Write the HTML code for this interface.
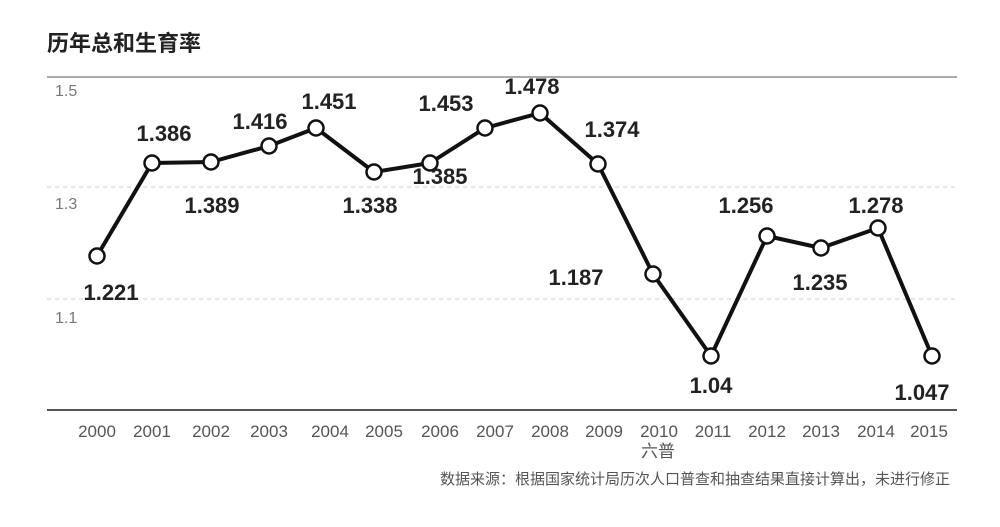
<!DOCTYPE html>
<html><head><meta charset="utf-8"><style>
body{margin:0;background:#fff;}
svg text{font-family:"Liberation Sans","Noto Sans CJK SC",sans-serif;}
</style></head><body>
<svg width="1000" height="522" viewBox="0 0 1000 522" xmlns="http://www.w3.org/2000/svg">
<rect width="1000" height="522" fill="#fff"/>
<text x="47" y="51" font-size="22" font-weight="bold" fill="#222">历年总和生育率</text>
<line x1="47" y1="77" x2="957" y2="77" stroke="#aaa" stroke-width="2"/>
<line x1="47" y1="187" x2="957" y2="187" stroke="#ddd" stroke-width="1.5" stroke-dasharray="4,4"/>
<line x1="47" y1="299" x2="957" y2="299" stroke="#ddd" stroke-width="1.5" stroke-dasharray="4,4"/>
<line x1="47" y1="410" x2="957" y2="410" stroke="#555" stroke-width="2"/>
<g font-size="16" fill="#777">
<text x="55" y="96">1.5</text><text x="55" y="209">1.3</text><text x="55" y="323">1.1</text>
</g>
<polyline fill="none" stroke="#111" stroke-width="4" stroke-linejoin="round" points="97,256 152,163 211,162 269,146 316,128 374,172 430,163 485,128 540,113 598,164 653,274 711,356 767,236 821,248 878,228 932,356"/>
<g fill="#fff" stroke="#111" stroke-width="2.5">
<circle cx="97" cy="256" r="7.5"/><circle cx="152" cy="163" r="7.5"/><circle cx="211" cy="162" r="7.5"/><circle cx="269" cy="146" r="7.5"/><circle cx="316" cy="128" r="7.5"/><circle cx="374" cy="172" r="7.5"/><circle cx="430" cy="163" r="7.5"/><circle cx="485" cy="128" r="7.5"/><circle cx="540" cy="113" r="7.5"/><circle cx="598" cy="164" r="7.5"/><circle cx="653" cy="274" r="7.5"/><circle cx="711" cy="356" r="7.5"/><circle cx="767" cy="236" r="7.5"/><circle cx="821" cy="248" r="7.5"/><circle cx="878" cy="228" r="7.5"/><circle cx="932" cy="356" r="7.5"/>
</g>
<g font-size="22" font-weight="bold" fill="#222" text-anchor="middle">
<text x="111" y="300">1.221</text><text x="164" y="141">1.386</text><text x="212" y="213">1.389</text><text x="260" y="129">1.416</text><text x="329" y="109">1.451</text><text x="370" y="213">1.338</text><text x="446" y="111">1.453</text><text x="440" y="184">1.385</text><text x="532" y="94">1.478</text><text x="612" y="137">1.374</text><text x="576" y="285">1.187</text><text x="711" y="393">1.04</text><text x="746" y="213">1.256</text><text x="820" y="290">1.235</text><text x="876" y="213">1.278</text><text x="922" y="400">1.047</text>
</g>
<g font-size="17" fill="#555" text-anchor="middle">
<text x="97" y="437">2000</text><text x="152" y="437">2001</text><text x="211" y="437">2002</text><text x="269" y="437">2003</text><text x="330" y="437">2004</text><text x="384" y="437">2005</text><text x="440" y="437">2006</text><text x="495" y="437">2007</text><text x="550" y="437">2008</text><text x="604" y="437">2009</text><text x="659" y="437">2010</text><text x="713" y="437">2011</text><text x="767" y="437">2012</text><text x="821" y="437">2013</text><text x="876" y="437">2014</text><text x="929" y="437">2015</text>
<text x="658" y="457">六普</text>
</g>
<text x="950" y="484" font-size="15" fill="#555" text-anchor="end">数据来源：根据国家统计局历次人口普查和抽查结果直接计算出，未进行修正</text>
</svg>
</body></html>
